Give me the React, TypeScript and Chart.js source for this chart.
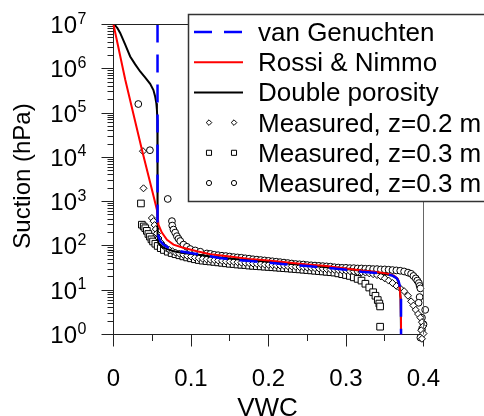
import React, { useEffect, useRef } from 'react';
import { Chart, registerables } from 'chart.js';
import { drawPoint } from 'chart.js/helpers';

Chart.register(...registerables);

// ---------- data ----------
const X_MAJOR = [0, 0.1, 0.2, 0.3, 0.4];
const X_MINOR = [0.05, 0.15, 0.25, 0.35];
const X_LABELS = ['0', '0.1', '0.2', '0.3', '0.4'];
const Y_EXPONENTS = [0, 1, 2, 3, 4, 5, 6, 7];
const Y_MINOR_MULT = [2, 3, 4, 5, 6, 7, 8, 9];

const vgVWC = [0.0568, 0.0568, 0.0568, 0.0568, 0.057, 0.058, 0.0603, 0.0645, 0.071, 0.0774, 0.086, 0.099, 0.116, 0.135, 0.16, 0.18, 0.2, 0.225, 0.25, 0.275, 0.3, 0.32, 0.34, 0.352, 0.36, 0.365, 0.368, 0.37, 0.371, 0.371];
const vgSuction = [1e7, 1e5, 1e3, 316, 224, 166, 129, 107, 91, 83, 76, 69, 62, 54, 48, 45, 42, 38, 35, 32, 29, 26, 24.5, 23, 21.4, 19, 15.8, 11.2, 6.3, 1];

const rnVWC = [0, 0.0151, 0.0366, 0.0506, 0.056, 0.057, 0.058, 0.0624, 0.069, 0.0774, 0.09, 0.1076, 0.125, 0.15, 0.175, 0.2, 0.225, 0.25, 0.275, 0.3, 0.32, 0.34, 0.355, 0.362, 0.367, 0.369, 0.3705, 0.371, 0.371];
const rnSuction = [1e7, 575000, 15100, 1580, 660, 479, 302, 200, 138, 107, 91, 76, 65, 57.5, 51, 47, 42, 38, 35, 31, 28, 25.7, 23.4, 21.4, 17.8, 12.6, 6.3, 2, 1];

const dpVWC = [0.0013, 0.005, 0.0086, 0.015, 0.0215, 0.028, 0.0344, 0.041, 0.0473, 0.0515, 0.0538, 0.0553, 0.056, 0.0566, 0.0568, 0.0568, 0.0568, 0.0572, 0.058, 0.0645, 0.0774, 0.09, 0.11, 0.13, 0.16, 0.2, 0.25, 0.3, 0.34, 0.36, 0.366, 0.369, 0.3705, 0.371];
const dpSuction = [1e7, 8.3e6, 6.46e6, 3.55e6, 1.9e6, 1.26e6, 8.7e5, 6.3e5, 4.57e5, 3.3e5, 2.34e5, 1.66e5, 1.2e5, 7.1e4, 4e4, 1e3, 200, 166, 117, 91, 76, 69, 63, 56, 50, 44, 36, 30, 25, 21.4, 18.2, 12.6, 6.3, 1];

const m1VWC = [0.038, 0.0387, 0.0495, 0.0516, 0.053, 0.0545, 0.056, 0.058, 0.061, 0.064, 0.068, 0.072, 0.076, 0.08, 0.085, 0.09, 0.095,
  0.1, 0.105, 0.11, 0.115, 0.12, 0.125, 0.13, 0.135, 0.14, 0.145, 0.15, 0.155, 0.16, 0.165, 0.17, 0.175, 0.18, 0.185, 0.19, 0.195,
  0.2, 0.205, 0.21, 0.215, 0.22, 0.225, 0.23, 0.235, 0.24, 0.245, 0.25, 0.255, 0.26, 0.265, 0.27, 0.275, 0.28, 0.285, 0.29, 0.295,
  0.3, 0.305, 0.31, 0.315, 0.32, 0.325, 0.33, 0.335, 0.34, 0.345, 0.35, 0.355, 0.36, 0.365, 0.37, 0.375, 0.38, 0.384, 0.387, 0.39,
  0.393, 0.396, 0.398, 0.399, 0.397, 0.4, 0.398];
const m1Suction = [13800, 2000, 427, 363, 295, 240, 191, 151, 120, 102, 89, 81, 76, 71, 67, 63, 60,
  57.5, 55, 53, 51.5, 50, 49, 48, 47, 46, 45, 44.5, 44, 43, 42, 41.5, 41, 40, 39.5, 39, 38,
  37.5, 37, 36.5, 36, 35.5, 35, 34.5, 34, 33.5, 33, 32.5, 32, 31.5, 31, 30.5, 30, 29.5, 29, 28.5, 28,
  27.5, 27, 26.5, 26, 25.5, 25, 24, 23, 22, 20.5, 18.5, 16.5, 14.5, 12.5, 11, 9.5, 7.5, 5.6, 4.5, 3.6,
  2.9, 2.4, 1.9, 1.5, 1.25, 1.05, 0.8];

const m2VWC = [0.0354, 0.0366, 0.039, 0.041, 0.043, 0.045, 0.047, 0.049, 0.051, 0.054, 0.057, 0.061, 0.065, 0.07, 0.075, 0.08, 0.085, 0.09, 0.095,
  0.1, 0.105, 0.11, 0.115, 0.12, 0.125, 0.13, 0.135, 0.14, 0.145, 0.15, 0.155, 0.16, 0.165, 0.17, 0.175, 0.18, 0.185, 0.19, 0.195,
  0.2, 0.205, 0.21, 0.215, 0.22, 0.225, 0.23, 0.235, 0.24, 0.245, 0.25, 0.255, 0.26, 0.265, 0.27, 0.275, 0.28, 0.285, 0.29, 0.295,
  0.3, 0.305, 0.31, 0.315, 0.32, 0.325, 0.33, 0.335, 0.338, 0.341, 0.343, 0.344, 0.344];
const m2Suction = [910, 302, 275, 251, 219, 186, 162, 141, 126, 112, 100, 89, 81, 74, 69, 65, 61.5, 58, 55,
  52.5, 50, 48, 46.5, 45.5, 44.5, 43.5, 42.5, 41.5, 40.5, 39.5, 39, 38, 37.5, 37, 36, 35.5, 35, 34.5, 34,
  33.5, 33, 32.5, 32, 31.5, 31, 30.5, 30, 29.5, 29, 28.5, 28, 27.5, 27, 26.5, 26, 25.5, 25, 24, 23,
  22, 21, 19.5, 18, 16.5, 14, 11.5, 9, 7.5, 6, 5, 4.3, 1.5];

const m3VWC = [0.032, 0.047, 0.07, 0.0754, 0.0758, 0.0774, 0.0796, 0.0818, 0.0839, 0.0861, 0.0903, 0.0947, 0.099, 0.1055, 0.112, 0.1205,
  0.125, 0.13, 0.135, 0.14, 0.145, 0.15, 0.155, 0.16, 0.165, 0.17, 0.175, 0.18, 0.185, 0.19, 0.195,
  0.2, 0.205, 0.21, 0.215, 0.22, 0.225, 0.23, 0.235, 0.24, 0.245, 0.25, 0.255, 0.26, 0.265, 0.27, 0.275, 0.28, 0.285, 0.29, 0.295,
  0.3, 0.305, 0.31, 0.315, 0.32, 0.325, 0.33, 0.335, 0.34, 0.345, 0.35, 0.355, 0.36, 0.365, 0.37, 0.375, 0.38, 0.384, 0.387, 0.39,
  0.392, 0.394, 0.395, 0.396, 0.395, 0.3937, 0.4022, 0.398, 0.4, 0.398, 0.396];
const m3Suction = [160000, 14500, 1150, 363, 288, 234, 200, 166, 145, 129, 107, 95.5, 85, 79, 74, 67.6,
  66, 63, 61.7, 60, 59, 57.5, 56, 55, 54, 52.5, 51.5, 50, 49, 48, 47,
  46, 45, 44, 43, 42, 41, 40, 39, 38.5, 38, 37, 36.5, 36, 35.5, 35, 34.5, 34, 33, 32.5, 32,
  32, 31.5, 31.5, 31, 31, 30.5, 30.5, 30, 30, 29.5, 29.5, 29, 28.5, 28, 27.5, 26.5, 25, 23.5, 21, 18.5,
  16.5, 14.5, 12.5, 11, 7, 5.2, 3.6, 2.4, 1.7, 1.3, 0.85];

const SERIES_LABELS = ['van Genuchten', 'Rossi & Nimmo', 'Double porosity', 'Measured, z=0.2 m', 'Measured, z=0.3 m', 'Measured, z=0.3 m'];

const zip = (xs: number[], ys: number[]) => xs.map((x, i) => ({ x, y: ys[i] }));

const FONT = '"Liberation Sans", Arial, sans-serif';

const isMajorX = (v: number) => X_MAJOR.some((m) => Math.abs(m - v) < 1e-9);
const isMajorY = (v: number) => Math.abs(Math.log10(v) - Math.round(Math.log10(v))) < 1e-9;

const decorPlugin = {
  id: 'decor',
  afterDraw(chart: any) {
    const { ctx, chartArea: a } = chart;
    const xs = chart.scales.x;
    const ys = chart.scales.y;
    ctx.save();
    // frame top and right
    ctx.lineWidth = 1;
    ctx.strokeStyle = '#222';
    ctx.beginPath();
    ctx.moveTo(a.left, Math.floor(a.top) + 0.5);
    ctx.lineTo(a.right, Math.floor(a.top) + 0.5);
    ctx.stroke();
    ctx.strokeStyle = '#666';
    ctx.beginPath();
    ctx.moveTo(Math.floor(a.right) + 0.5, a.top);
    ctx.lineTo(Math.floor(a.right) + 0.5, a.bottom);
    ctx.stroke();

    // legend
    const lx = 188, ly = 14, lh = 187;
    ctx.fillStyle = '#fff';
    ctx.fillRect(lx, ly, 400, lh);
    ctx.strokeStyle = '#333';
    ctx.lineWidth = 1.5;
    ctx.strokeRect(lx + 0.5, ly + 0.5, 400, lh);
    chart.data.datasets.forEach((ds: any, i: number) => {
      const ry = 32 + i * 30.2;
      if (ds.showLine) {
        ctx.save();
        ctx.strokeStyle = ds.borderColor;
        ctx.lineWidth = ds.borderWidth;
        ctx.setLineDash(ds.borderDash || []);
        ctx.beginPath();
        ctx.moveTo(194, ry);
        ctx.lineTo(243, ry);
        ctx.stroke();
        ctx.restore();
      } else {
        ctx.save();
        ctx.fillStyle = '#fff';
        ctx.strokeStyle = '#000';
        ctx.lineWidth = 1;
        const opts = { pointStyle: ds.pointStyle, radius: ds.legendRadius, rotation: 0, borderWidth: 1 };
        drawPoint(ctx, opts, 209, ry);
        drawPoint(ctx, opts, 234, ry);
        ctx.restore();
      }
      ctx.fillStyle = '#000';
      ctx.font = `26px ${FONT}`;
      ctx.textAlign = 'left';
      ctx.textBaseline = 'alphabetic';
      ctx.fillText(ds.label, 258, ry + 9);
    });

    // y tick labels
    ctx.fillStyle = '#000';
    ctx.textBaseline = 'alphabetic';
    Y_EXPONENTS.forEach((k) => {
      const py = ys.getPixelForValue(Math.pow(10, k));
      ctx.font = `24px ${FONT}`;
      ctx.textAlign = 'right';
      ctx.fillText('10', 77, py + 8.5);
      ctx.font = `16px ${FONT}`;
      ctx.textAlign = 'left';
      ctx.fillText(String(k), 77.5, py - 1);
    });
    // x tick labels
    ctx.font = `24px ${FONT}`;
    ctx.textAlign = 'center';
    X_MAJOR.forEach((v, i) => {
      const px = xs.getPixelForValue(v);
      ctx.fillText(X_LABELS[i], px, 385.5);
    });
    // axis titles
    ctx.font = `26px ${FONT}`;
    ctx.fillText('VWC', (a.left + a.right) / 2 - 1, 416);
    ctx.save();
    ctx.font = `24px ${FONT}`;
    ctx.translate(30, 176);
    ctx.rotate(-Math.PI / 2);
    ctx.textAlign = 'center';
    ctx.fillText('Suction (hPa)', 0, 0);
    ctx.restore();
    ctx.restore();
  },
};

export default function App() {
  const ref = useRef<HTMLCanvasElement | null>(null);
  useEffect(() => {
    if (!ref.current) return;
    const lineBase = { showLine: true, pointRadius: 0, tension: 0, clip: false, fill: false };
    const ptBase = { showLine: false, pointBackgroundColor: '#fff', pointBorderColor: '#000', pointBorderWidth: 1, clip: false };
    const chart = new Chart(ref.current, {
      type: 'scatter',
      data: {
        datasets: [
          { ...lineBase, label: SERIES_LABELS[0], data: zip(vgVWC, vgSuction), borderColor: '#0000ff', borderWidth: 2.5, borderDash: [18, 12] },
          { ...lineBase, label: SERIES_LABELS[1], data: zip(rnVWC, rnSuction), borderColor: '#ff0000', borderWidth: 2 },
          { ...lineBase, label: SERIES_LABELS[2], data: zip(dpVWC, dpSuction), borderColor: '#000000', borderWidth: 2 },
          { ...ptBase, label: SERIES_LABELS[3], data: zip(m1VWC, m1Suction), pointStyle: 'rectRot', pointRadius: 3.5, legendRadius: 2.8 },
          { ...ptBase, label: SERIES_LABELS[4], data: zip(m2VWC, m2Suction), pointStyle: 'rect', pointRadius: 4.7, legendRadius: 3.6 },
          { ...ptBase, label: SERIES_LABELS[5], data: zip(m3VWC, m3Suction), pointStyle: 'circle', pointRadius: 3.4, legendRadius: 2.6 },
        ] as any,
      },
      options: {
        animation: false,
        responsive: true,
        maintainAspectRatio: false,
        events: [],
        layout: { padding: { left: 101.5, right: 60.5, top: 24.5, bottom: 69.5 } },
        plugins: { legend: { display: false }, tooltip: { enabled: false } },
        scales: {
          x: {
            type: 'linear',
            min: 0,
            max: 0.4,
            afterBuildTicks: (s: any) => {
              s.ticks = [...X_MAJOR, ...X_MINOR].sort((p, q) => p - q).map((v) => ({ value: v }));
            },
            ticks: { display: false },
            grid: {
              drawOnChartArea: false,
              drawTicks: true,
              tickLength: 12,
              tickColor: '#222',
              tickWidth: 1,
              tickBorderDash: (c: any) => (c.tick && isMajorX(c.tick.value) ? [] : [6, 100]),
            },
            border: { display: true, color: '#222', width: 1 },
          },
          y: {
            type: 'logarithmic',
            min: 1,
            max: 1e7,
            afterBuildTicks: (s: any) => {
              const t: { value: number }[] = [];
              Y_EXPONENTS.forEach((k) => {
                t.push({ value: Math.pow(10, k) });
                if (k < 7) Y_MINOR_MULT.forEach((m) => t.push({ value: m * Math.pow(10, k) }));
              });
              s.ticks = t;
            },
            ticks: { display: false },
            grid: {
              drawOnChartArea: false,
              drawTicks: true,
              tickLength: 12,
              tickColor: '#222',
              tickWidth: 1,
              tickBorderDash: (c: any) => (c.tick && isMajorY(c.tick.value) ? [] : [0, 6, 6, 100]),
            },
            border: { display: true, color: '#222', width: 1 },
          },
        },
      } as any,
      plugins: [decorPlugin],
    });
    return () => chart.destroy();
  }, []);
  return (
    <div style={{ position: 'absolute', left: 0, top: 0, width: '484px', height: '416px', background: '#fff' }}>
      <canvas ref={ref} />
    </div>
  );
}
